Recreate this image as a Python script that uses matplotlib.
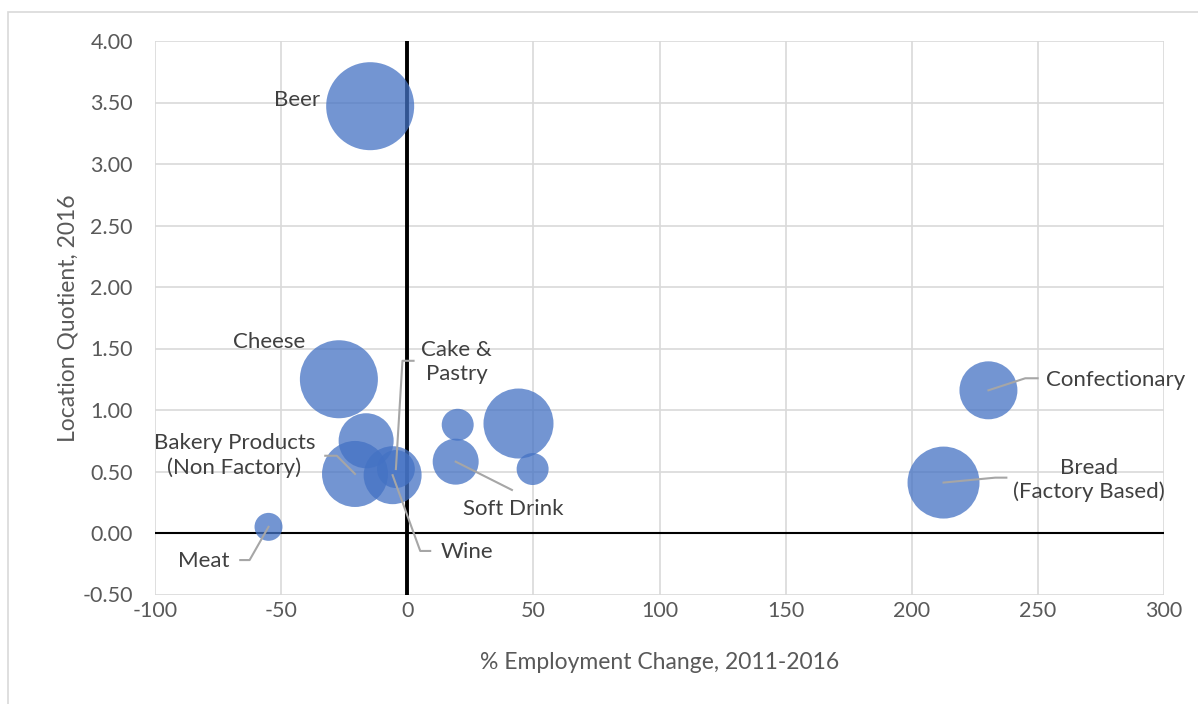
import matplotlib.pyplot as plt
from matplotlib.patches import Rectangle

# --- data ---
labels = ["Beer", "Cheese", "Bakery Products\n(Non Factory)", "Cake &\nPastry", "Wine",
          "Soft Drink", "Meat", "Confectionary", "Bread\n(Factory Based)",
          "", "", "", ""]
emp_change = [-14.7, -27.1, -20.7, -4.5, -5.8, 19.2, -55.0, 230.4, 212.6,
              -16.3, 20.0, 44.1, 49.7]
loc_quot = [3.47, 1.25, 0.48, 0.52, 0.47, 0.58, 0.05, 1.16, 0.41,
            0.75, 0.88, 0.89, 0.52]
bubble_size = [100, 78.6, 56.3, 18.6, 43.4, 27.3, 10.1, 43.4, 66.9,
               39.1, 13.2, 63.3, 13.2]

x_ticks = [-100, -50, 0, 50, 100, 150, 200, 250, 300]
y_ticks = [-0.5, 0, 0.5, 1.0, 1.5, 2.0, 2.5, 3.0, 3.5, 4.0]

# label placement: (text x, text y, ha, leader elbow points)
label_pos = {
    "Beer": (-34.5, 3.52, "right", []),
    "Cheese": (-54.7, 1.55, "center", []),
    "Bakery Products\n(Non Factory)": (-36.5, 0.63, "right", [(-27.9, 0.628), (-32.5, 0.628)]),
    "Cake &\nPastry": (5.5, 1.39, "left", [(-1.9, 1.40), (2.5, 1.40)]),
    "Wine": (13.1, -0.155, "left", [(5.15, -0.146), (9.1, -0.146)]),
    "Soft Drink": (42.0, 0.195, "center", [(41.5, 0.35)]),
    "Meat": (-80.5, -0.228, "center", [(-62.5, -0.22), (-66.2, -0.22)]),
    "Confectionary": (253.3, 1.244, "left", [(245, 1.258), (249.9, 1.258)]),
    "Bread\n(Factory Based)": (270.4, 0.43, "center", [(233.1, 0.45), (237.5, 0.45)]),
}

plt.rcParams['font.family'] = ['Lato', 'DejaVu Sans']
plt.rcParams['axes.unicode_minus'] = False
txt_col = '#404040'
tick_col = '#595959'

fig = plt.figure(figsize=(11.98, 7.04), dpi=100)
fig.patches.append(Rectangle((8 / 1198, -0.1), 1.2, 1 - 12 / 704 + 0.1, transform=fig.transFigure,
                             fill=False, edgecolor='#d9d9d9', lw=1.2))
ax = fig.add_axes([155 / 1198, 1 - 594.5 / 704, 1009 / 1198, 553.5 / 704])

max_d_pt = 88 * 0.72
sizes = [v / 100 * max_d_pt ** 2 for v in bubble_size]
ax.scatter(emp_change, loc_quot, s=sizes, color='#4472C4', alpha=0.75, linewidths=0, zorder=3)

ax.set_xlim(-100, 300)
ax.set_ylim(-0.5, 4.0)
ax.set_xticks(x_ticks)
ax.set_yticks(y_ticks)
ax.set_yticklabels([f"{v:.2f}" for v in y_ticks])
ax.grid(True, color='#d9d9d9', lw=1.2, zorder=0)
for s in ax.spines.values():
    s.set_visible(False)
ax.tick_params(length=0, labelsize=15.5, colors=tick_col)
ax.tick_params(axis='y', pad=16)
ax.tick_params(axis='x', pad=5)
ax.axhline(0, color='black', lw=1.5, zorder=2)
ax.axvline(0, color='black', lw=2.8, zorder=2)

ax.set_xlabel("% Employment Change, 2011-2016", fontsize=16.5, color=tick_col, labelpad=22)
ax.set_ylabel("Location Quotient, 2016", fontsize=16.5, color=tick_col, labelpad=3)

for i, lab in enumerate(labels):
    if not lab:
        continue
    tx, ty, ha, pts = label_pos[lab]
    if pts:
        xs = [emp_change[i]] + [p[0] for p in pts]
        ys = [loc_quot[i]] + [p[1] for p in pts]
        ax.plot(xs, ys, color='#a6a6a6', lw=1.5, zorder=4)
    ax.text(tx, ty, lab, ha=ha, va='center', fontsize=16, color=txt_col,
            multialignment='center', linespacing=1.25, zorder=5)

fig.savefig("out.png", dpi=100)
